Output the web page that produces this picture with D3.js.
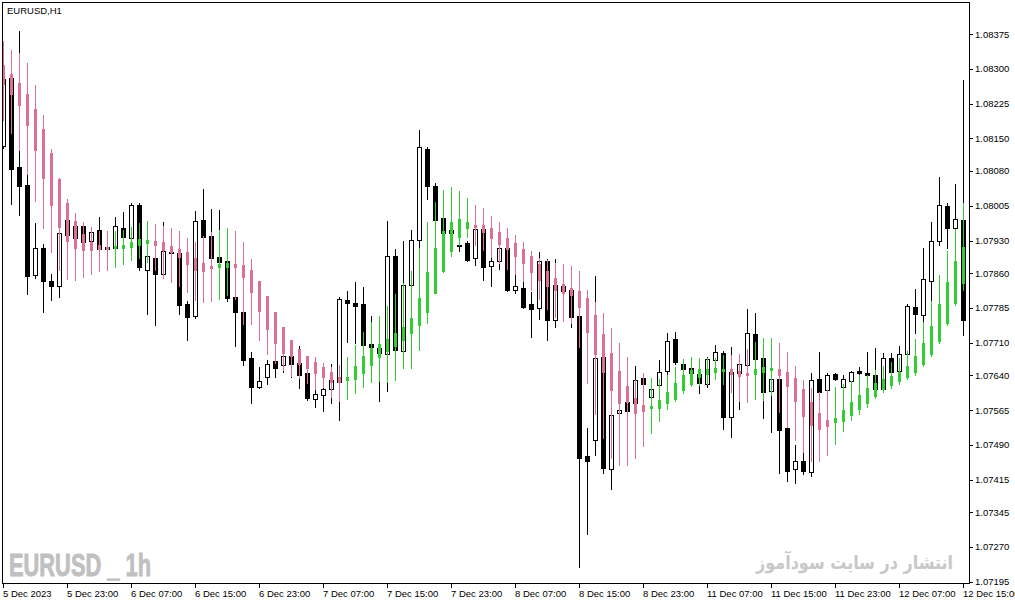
<!DOCTYPE html>
<html>
<head>
<meta charset="utf-8">
<script src="https://cdn.jsdelivr.net/npm/d3@7/dist/d3.min.js"></script>
<style>
  html, body { margin: 0; padding: 0; background: #fff; }
  svg { display: block; }
  .tick text { font-family: "Liberation Sans", Arial, sans-serif; font-size: 9.5px; fill: #000; }
</style>
</head>
<body>
<svg id="chart" width="1015" height="605"></svg>
<script>
// ---------- DATA ----------
const candleOpen = [1.08134,1.08280,1.08088,1.08050,1.07856,1.07914,1.07843,1.07831,1.07974,1.07961,
1.07961,1.07930,1.07953,1.07916,1.07913,1.07957,1.07936,1.08007,1.07866,1.07892,
1.07859,1.07906,1.07903,1.07793,1.07768,1.07974,1.07940,1.07895,1.07886,1.07808,
1.07776,1.07677,1.07615,1.07635,1.07670,1.07661,1.07681,1.07666,1.07645,1.07589,
1.07598,1.07610,1.07626,1.07802,1.07795,1.07793,1.07707,1.07699,1.07685,1.07897,
1.07693,1.07834,1.07931,1.08127,1.08047,1.07979,1.07953,1.07920,1.07924,1.07892,
1.07954,1.07875,1.07887,1.07913,1.07823,1.07828,1.07793,1.07785,1.07885,1.07759,
1.07832,1.07823,1.07767,1.07466,1.07500,1.07679,1.07438,1.07558,1.07582,1.07579,
1.07633,1.07592,1.07619,1.07648,1.07718,1.07665,1.07655,1.07642,1.07622,1.07672,
1.07688,1.07550,1.07645,1.07661,1.07728,1.07676,1.07605,1.07632,1.07527,1.07438,
1.07455,1.07432,1.07632,1.07607,1.07642,1.07614,1.07627,1.07649,1.07645,1.07640,
1.07610,1.07677,1.07648,1.07685,1.07787,1.07770,1.07843,1.07930,1.08005,1.07958,
1.07974];
const candleHigh = [1.08287,1.08284,1.08381,1.08073,1.07968,1.07923,1.07858,1.07953,1.07983,1.07970,
1.07971,1.07955,1.07981,1.07931,1.07981,1.07991,1.08011,1.08011,1.07910,1.07905,
1.07970,1.07918,1.07912,1.07800,1.07994,1.08041,1.07998,1.07996,1.07892,1.07815,
1.07783,1.07690,1.07658,1.07673,1.07679,1.07688,1.07694,1.07703,1.07651,1.07614,
1.07630,1.07664,1.07808,1.07821,1.07841,1.07829,1.07767,1.07707,1.07972,1.07912,
1.07929,1.07953,1.08168,1.08131,1.08053,1.07983,1.07957,1.07940,1.07929,1.07959,
1.08000,1.07895,1.07918,1.07918,1.07859,1.07843,1.07819,1.07905,1.07890,1.07890,
1.07839,1.07828,1.07772,1.07526,1.07854,1.07683,1.07561,1.07574,1.07591,1.07660,
1.07640,1.07617,1.07673,1.07731,1.07733,1.07675,1.07660,1.07649,1.07679,1.07705,
1.07692,1.07701,1.07670,1.07783,1.07774,1.07683,1.07638,1.07638,1.07533,1.07490,
1.07474,1.07645,1.07690,1.07645,1.07645,1.07640,1.07649,1.07657,1.07690,1.07699,
1.07688,1.07688,1.07703,1.07793,1.07826,1.07914,1.07969,1.08067,1.08011,1.08052,
1.08276];
const candleLow = [1.08129,1.08009,1.07984,1.07815,1.07850,1.07776,1.07802,1.07809,1.07935,1.07927,
1.07920,1.07923,1.07910,1.07905,1.07907,1.07910,1.07931,1.07867,1.07772,1.07748,
1.07854,1.07892,1.07772,1.07716,1.07764,1.07929,1.07884,1.07880,1.07800,1.07703,
1.07662,1.07579,1.07613,1.07622,1.07635,1.07647,1.07635,1.07613,1.07587,1.07572,
1.07563,1.07581,1.07544,1.07712,1.07710,1.07701,1.07694,1.07584,1.07606,1.07690,
1.07688,1.07823,1.07915,1.08020,1.07970,1.07942,1.07942,1.07908,1.07886,1.07878,
1.07846,1.07831,1.07869,1.07822,1.07816,1.07785,1.07723,1.07762,1.07716,1.07744,
1.07818,1.07744,1.07227,1.07298,1.07469,1.07430,1.07395,1.07548,1.07559,1.07574,
1.07614,1.07586,1.07612,1.07642,1.07665,1.07647,1.07638,1.07602,1.07614,1.07666,
1.07524,1.07507,1.07568,1.07658,1.07670,1.07548,1.07518,1.07430,1.07413,1.07408,
1.07426,1.07423,1.07599,1.07602,1.07630,1.07608,1.07623,1.07638,1.07638,1.07606,
1.07605,1.07616,1.07642,1.07679,1.07731,1.07755,1.07800,1.07921,1.07915,1.07953,
1.07727];
const candleClose = [1.08277,1.08084,1.08048,1.07854,1.07914,1.07843,1.07831,1.07946,1.07943,1.07935,
1.07926,1.07948,1.07912,1.07912,1.07961,1.07938,1.08007,1.07872,1.07897,1.07859,
1.07907,1.07904,1.07791,1.07766,1.07972,1.07938,1.07892,1.07884,1.07807,1.07775,
1.07673,1.07615,1.07627,1.07664,1.07656,1.07681,1.07665,1.07641,1.07591,1.07599,
1.07610,1.07630,1.07803,1.07796,1.07790,1.07706,1.07701,1.07687,1.07896,1.07695,
1.07834,1.07931,1.08131,1.08048,1.07975,1.07947,1.07947,1.07919,1.07889,1.07955,
1.07874,1.07887,1.07913,1.07824,1.07831,1.07787,1.07783,1.07885,1.07759,1.07834,
1.07822,1.07766,1.07462,1.07454,1.07677,1.07441,1.07554,1.07564,1.07563,1.07629,
1.07620,1.07610,1.07646,1.07713,1.07669,1.07653,1.07644,1.07624,1.07674,1.07689,
1.07550,1.07646,1.07664,1.07730,1.07675,1.07604,1.07631,1.07522,1.07434,1.07455,
1.07434,1.07629,1.07604,1.07640,1.07631,1.07631,1.07646,1.07644,1.07641,1.07610,
1.07677,1.07646,1.07686,1.07788,1.07772,1.07847,1.07928,1.08006,1.07958,1.07976,
1.07759];

// Heiken Ashi overlay
const haOpen = [1.08308,1.08289,1.08269,1.08246,1.08213,1.08170,1.08119,1.08063,1.08011,1.07972,
1.07944,1.07927,1.07921,1.07917,1.07914,1.07915,1.07917,1.07921,1.07925,1.07929,
1.07927,1.07918,1.07912,1.07905,1.07892,1.07882,1.07875,1.07872,1.07873,1.07880,
1.07877,1.07867,1.07843,1.07811,1.07776,1.07744,1.07716,1.07696,1.07681,1.07668,
1.07658,1.07647,1.07636,1.07630,1.07632,1.07645,1.07662,1.07680,1.07693,1.07703,
1.07716,1.07730,1.07747,1.07775,1.07818,1.07865,1.07908,1.07938,1.07956,1.07964,
1.07964,1.07957,1.07948,1.07935,1.07925,1.07912,1.07897,1.07880,1.07864,1.07849,
1.07836,1.07828,1.07821,1.07806,1.07770,1.07729,1.07688,1.07649,1.07617,1.07591,
1.07576,1.07570,1.07570,1.07579,1.07589,1.07607,1.07622,1.07636,1.07642,1.07647,
1.07650,1.07653,1.07649,1.07645,1.07642,1.07647,1.07652,1.07653,1.07647,1.07634,
1.07610,1.07582,1.07559,1.07543,1.07538,1.07542,1.07554,1.07566,1.07581,1.07596,
1.07610,1.07619,1.07627,1.07637,1.07647,1.07665,1.07686,1.07714,1.07753,1.07796,
1.07839];
const haHigh = [1.08360,1.08341,1.08334,1.08313,1.08265,1.08201,1.08127,1.08065,1.08020,1.07989,
1.07971,1.07960,1.07951,1.07951,1.07951,1.07953,1.07959,1.07968,1.07972,1.07966,
1.07961,1.07957,1.07951,1.07935,1.07927,1.07940,1.07948,1.07953,1.07957,1.07951,
1.07927,1.07890,1.07843,1.07811,1.07776,1.07744,1.07716,1.07696,1.07681,1.07679,
1.07666,1.07658,1.07662,1.07679,1.07705,1.07733,1.07755,1.07767,1.07789,1.07815,
1.07838,1.07864,1.07915,1.07970,1.08013,1.08039,1.08045,1.08037,1.08022,1.08007,
1.08000,1.07983,1.07970,1.07957,1.07942,1.07927,1.07907,1.07892,1.07888,1.07882,
1.07880,1.07875,1.07864,1.07823,1.07798,1.07774,1.07742,1.07709,1.07679,1.07630,
1.07644,1.07633,1.07632,1.07640,1.07658,1.07675,1.07679,1.07677,1.07678,1.07676,
1.07683,1.07683,1.07686,1.07696,1.07711,1.07720,1.07720,1.07709,1.07690,1.07660,
1.07630,1.07612,1.07604,1.07607,1.07615,1.07621,1.07627,1.07640,1.07641,1.07651,
1.07660,1.07668,1.07677,1.07692,1.07718,1.07755,1.07800,1.07856,1.07907,1.07954,
1.08011];
const haLow = [1.08190,1.08162,1.08125,1.08073,1.08015,1.07956,1.07906,1.07867,1.07847,1.07845,
1.07852,1.07859,1.07864,1.07867,1.07874,1.07880,1.07889,1.07893,1.07884,1.07867,
1.07850,1.07841,1.07832,1.07819,1.07802,1.07798,1.07800,1.07805,1.07813,1.07804,
1.07751,1.07751,1.07716,1.07686,1.07667,1.07651,1.07638,1.07633,1.07624,1.07611,
1.07614,1.07594,1.07584,1.07588,1.07601,1.07615,1.07625,1.07628,1.07626,1.07630,
1.07655,1.07656,1.07695,1.07753,1.07816,1.07862,1.07897,1.07920,1.07938,1.07920,
1.07910,1.07895,1.07882,1.07869,1.07859,1.07843,1.07823,1.07804,1.07783,1.07766,
1.07757,1.07752,1.07701,1.07624,1.07557,1.07505,1.07462,1.07447,1.07447,1.07462,
1.07488,1.07516,1.07542,1.07568,1.07584,1.07602,1.07617,1.07619,1.07621,1.07632,
1.07621,1.07604,1.07584,1.07582,1.07589,1.07586,1.07597,1.07561,1.07529,1.07500,
1.07474,1.07454,1.07454,1.07467,1.07492,1.07519,1.07544,1.07556,1.07572,1.07591,
1.07604,1.07612,1.07621,1.07632,1.07640,1.07660,1.07681,1.07709,1.07748,1.07791,
1.07823];
const haClose = [1.08267,1.08246,1.08221,1.08180,1.08125,1.08065,1.08007,1.07960,1.07930,1.07915,
1.07910,1.07910,1.07912,1.07912,1.07918,1.07920,1.07927,1.07933,1.07931,1.07920,
1.07910,1.07905,1.07895,1.07880,1.07867,1.07865,1.07871,1.07880,1.07882,1.07874,
1.07852,1.07820,1.07779,1.07740,1.07710,1.07688,1.07682,1.07664,1.07655,1.07645,
1.07635,1.07626,1.07625,1.07636,1.07660,1.07681,1.07699,1.07707,1.07718,1.07731,
1.07744,1.07763,1.07806,1.07862,1.07914,1.07951,1.07970,1.07976,1.07970,1.07959,
1.07949,1.07936,1.07923,1.07911,1.07897,1.07882,1.07862,1.07845,1.07832,1.07824,
1.07818,1.07813,1.07787,1.07734,1.07686,1.07647,1.07609,1.07581,1.07583,1.07559,
1.07563,1.07574,1.07586,1.07604,1.07623,1.07640,1.07651,1.07653,1.07653,1.07655,
1.07653,1.07642,1.07638,1.07640,1.07653,1.07658,1.07655,1.07640,1.07617,1.07584,
1.07553,1.07533,1.07524,1.07531,1.07548,1.07565,1.07582,1.07597,1.07612,1.07623,
1.07632,1.07638,1.07647,1.07660,1.07681,1.07709,1.07746,1.07793,1.07841,1.07886,
1.07916];

const priceTicks = [1.08375,1.08300,1.08225,1.08150,1.08080,1.08005,1.07930,1.07860,1.07785,
1.07710,1.07640,1.07565,1.07490,1.07415,1.07345,1.07270,1.07195];
const timeTickIndex = [0,8,16,24,32,40,48,56,64,72,80,88,96,104,112,120];
const timeTickLabels = ["5 Dec 2023","5 Dec 23:00","6 Dec 07:00","6 Dec 15:00","6 Dec 23:00",
"7 Dec 07:00","7 Dec 15:00","7 Dec 23:00","8 Dec 07:00","8 Dec 15:00","8 Dec 23:00",
"11 Dec 07:00","11 Dec 15:00","11 Dec 23:00","12 Dec 07:00","12 Dec 15:00"];

// ---------- DRAW ----------
(function draw() {
const svg = d3.select("#chart");
const W = 1015, H = 605;
const pL = 2, pT = 2, pR = 969, pB = 583;

const x = d3.scaleLinear().domain([0, 120]).range([3, 963]);
const y = d3.scaleLinear().domain([1.07195, 1.08375]).range([581.7, 34]);

svg.append("rect").attr("width", W).attr("height", H).attr("fill", "#fff");

svg.append("clipPath").attr("id", "plotclip")
  .append("rect").attr("x", pL + 1).attr("y", pT + 1)
  .attr("width", pR - pL - 1).attr("height", pB - pT - 1);

// watermarks (behind the bars)
svg.append("text").attr("x", 9).attr("y", 576)
  .attr("font-family", "Liberation Sans Narrow, Liberation Sans, Arial, sans-serif")
  .attr("font-weight", "bold").attr("font-size", "31px")
  .attr("textLength", 142).attr("lengthAdjust", "spacingAndGlyphs")
  .attr("fill", "#c0c0c0").attr("stroke", "#c0c0c0").attr("stroke-width", 0.9)
  .text("EURUSD _ 1h");

svg.append("text").attr("x", 756).attr("y", 569)
  .attr("font-family", "DejaVu Sans, Noto Sans, sans-serif")
  .attr("font-weight", "bold").attr("font-size", "19px")
  .attr("textLength", 197).attr("lengthAdjust", "spacingAndGlyphs")
  .attr("fill", "#c8c8c8").text("انتشار در سایت سودآموز");

const plot = svg.append("g").attr("clip-path", "url(#plotclip)")
  .attr("shape-rendering", "crispEdges");

const idx = d3.range(candleOpen.length);
const R = v => Math.round(y(v));

// candles
const cg = plot.append("g");
idx.forEach(i => {
  const px = Math.round(x(i));
  const o = candleOpen[i], c = candleClose[i];
  const yh = R(candleHigh[i]), yl = R(candleLow[i]);
  const yt = R(Math.max(o, c)), yb = R(Math.min(o, c));
  cg.append("line").attr("x1", px + 0.5).attr("x2", px + 0.5)
    .attr("y1", yh).attr("y2", yl + 1).attr("stroke", "#000").attr("stroke-width", 1);
  if (c > o && yb - yt >= 2) {
    cg.append("rect").attr("x", px - 1.5).attr("y", yt + 0.5)
      .attr("width", 4).attr("height", yb - yt)
      .attr("fill", "#fff").attr("stroke", "#000").attr("stroke-width", 1);
  } else {
    cg.append("rect").attr("x", px - 2).attr("y", yt)
      .attr("width", 5).attr("height", Math.max(1, yb - yt + 1))
      .attr("fill", "#000");
  }
});

// Heiken Ashi overlay
const hg = plot.append("g");
idx.forEach(i => {
  const px = Math.round(x(i));
  const o = haOpen[i], c = haClose[i];
  const col = c >= o ? "#32cd32" : "#db7093";
  const yh = R(haHigh[i]), yl = R(haLow[i]);
  const yt = R(Math.max(o, c)), yb = R(Math.min(o, c));
  hg.append("line").attr("x1", px + 0.5).attr("x2", px + 0.5)
    .attr("y1", yh).attr("y2", yl + 1).attr("stroke", col).attr("stroke-width", 1);
  hg.append("rect").attr("x", px - 1).attr("y", yt)
    .attr("width", 3).attr("height", Math.max(2, yb - yt + 1))
    .attr("fill", col);
});

// frame
svg.append("rect").attr("x", pL + 0.5).attr("y", pT + 0.5)
  .attr("width", pR - pL).attr("height", pB - pT)
  .attr("fill", "none").attr("stroke", "#000").attr("stroke-width", 1)
  .attr("shape-rendering", "crispEdges");

// right price axis
const yAxis = d3.axisRight(y).tickValues(priceTicks).tickSize(4).tickPadding(2)
  .tickFormat(d3.format(".5f"));
const ya = svg.append("g").attr("transform", `translate(${pR},0)`).call(yAxis);
ya.select(".domain").remove();
ya.selectAll(".tick line").attr("stroke", "#000").attr("shape-rendering", "crispEdges");

// bottom time axis
const xAxis = d3.axisBottom(x).tickValues(timeTickIndex).tickSize(5).tickPadding(2)
  .tickFormat((d, i) => timeTickLabels[i]);
const xa = svg.append("g").attr("transform", `translate(0,${pB})`).call(xAxis);
xa.select(".domain").remove();
xa.selectAll(".tick line").attr("stroke", "#000").attr("shape-rendering", "crispEdges");
xa.selectAll(".tick text").attr("text-anchor", "start").attr("dx", "-0.5");

// title
svg.append("text").attr("x", 7).attr("y", 14)
  .attr("font-family", "Liberation Sans, Arial, sans-serif").attr("font-size", "9.5px")
  .attr("fill", "#000").text("EURUSD,H1");
})();
</script>
</body>
</html>
